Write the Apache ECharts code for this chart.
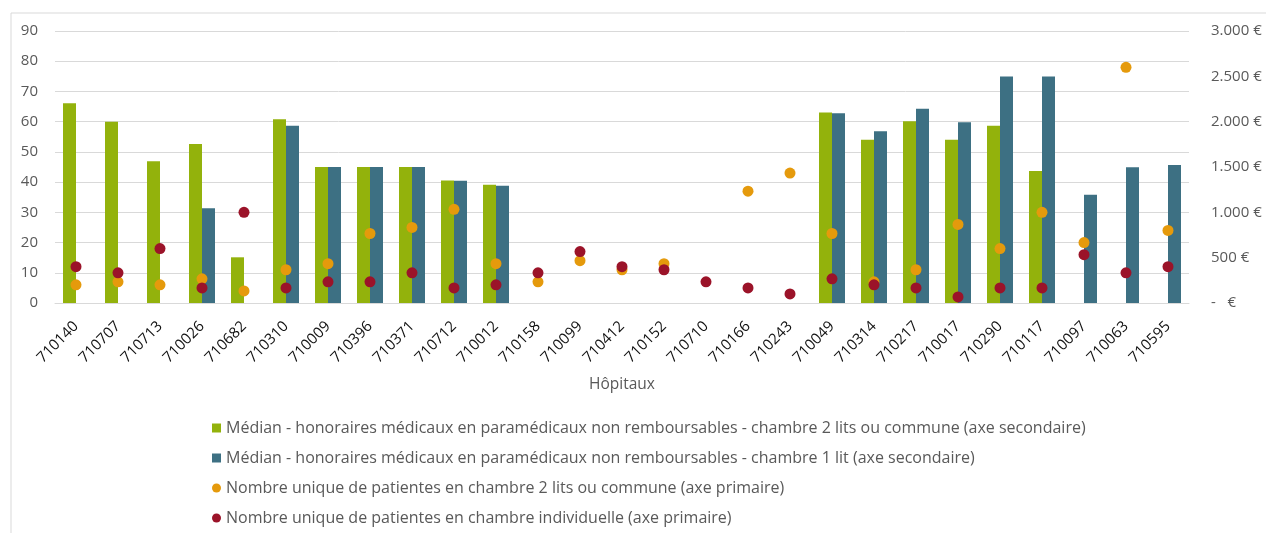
<!DOCTYPE html>
<html>
<head>
<meta charset="utf-8">
<script src="https://cdn.jsdelivr.net/npm/echarts@6/dist/echarts.min.js"></script>
<style>
  html, body { margin: 0; padding: 0; background: #fff; }
  #chart { width: 1266px; height: 533px; }
</style>
</head>
<body>
<div id="chart"></div>
<script>
// hôpitaux
const hopitaux = ['710140', '710707', '710713', '710026', '710682', '710310', '710009', '710396', '710371',
  '710712', '710012', '710158', '710099', '710412', '710152', '710710', '710166', '710243',
  '710049', '710314', '710217', '710017', '710290', '710117', '710097', '710063', '710595']

// médian honoraires (€) - axe secondaire
const median2Lits = [2203, 2000, 1563, 1753, 504, 2027, 1500, 1500, 1500, 1350, 1305, null, null, null, null, null, null, null,
  2100, 1801, 2004, 1801, 1956, 1456, null, null, null]
const median1Lit = [null, null, null, 1044, null, 1956, 1500, 1500, 1500, 1348, 1294, null, null, null, null, null, null, null,
  2093, 1893, 2143, 1993, 2497, 2497, 1194, 1497, 1522]

// nombre de patientes - axe primaire
const patientes2Lits = [6, 7, 6, 8, 4, 11, 13, 23, 25, 31, 13, 7, 14, 11, 13, null, 37, 43,
  23, 7, 11, 26, 18, 30, 20, 78, 24]
const patientesIndiv = [12, 10, 18, 5, 30, 5, 7, 7, 10, 5, 6, 10, 17, 12, 11, 7, 5, 3,
  8, 6, 5, 2, 5, 5, 16, 10, 12]

const noms = [
  'Médian - honoraires médicaux en paramédicaux non remboursables - chambre 2 lits ou commune (axe secondaire)',
  'Médian - honoraires médicaux en paramédicaux non remboursables - chambre 1 lit (axe secondaire)',
  'Nombre unique de patientes en chambre 2 lits ou commune (axe primaire)',
  'Nombre unique de patientes en chambre individuelle (axe primaire)'
]

const font = 'Open Sans'
const grey = '#595959'

function euro(v) {
  if (v === 0) return '-   €'
  return String(v).replace(/\B(?=(\d{3})+(?!\d))/g, '.') + ' €'
}

const chart = echarts.init(document.getElementById('chart'))
chart.setOption({
  animation: false,
  textStyle: { fontFamily: font },
  graphic: [{
    type: 'rect',
    shape: { x: 11, y: 13, width: 1300, height: 600 },
    style: { fill: 'none', stroke: '#d9d9d9', lineWidth: 1 },
    silent: true
  }],
  grid: { left: 55, right: 77, top: 31, bottom: 230 },
  legend: {
    orient: 'vertical',
    left: 212,
    top: 420,
    padding: 0,
    itemWidth: 9,
    itemHeight: 9,
    itemGap: 14,
    textStyle: { color: grey, fontSize: 16, lineHeight: 16, fontFamily: font },
    data: [
      { name: noms[0], icon: 'rect' },
      { name: noms[1], icon: 'rect' },
      { name: noms[2], icon: 'circle' },
      { name: noms[3], icon: 'circle' }
    ]
  },
  xAxis: {
    type: 'category',
    data: hopitaux,
    name: 'Hôpitaux',
    nameLocation: 'middle',
    nameGap: 74,
    nameTextStyle: { color: grey, fontSize: 15.5 },
    axisLine: { lineStyle: { color: '#d9d9d9' } },
    axisTick: { show: false },
    axisLabel: { rotate: 45, color: '#111', fontSize: 15, margin: 21, interval: 0 }
  },
  yAxis: [
    {
      type: 'value',
      min: 0,
      max: 90,
      interval: 10,
      axisLine: { show: false },
      axisTick: { show: false },
      axisLabel: { color: grey, fontSize: 15, margin: 17 },
      splitLine: { lineStyle: { color: '#d9d9d9', width: 1 } }
    },
    {
      type: 'value',
      min: 0,
      max: 3000,
      interval: 500,
      position: 'right',
      axisLine: { show: false },
      axisTick: { show: false },
      splitLine: { show: false },
      axisLabel: { color: grey, fontSize: 15, margin: 22, formatter: euro }
    }
  ],
  series: [
    {
      name: noms[0],
      type: 'bar',
      yAxisIndex: 1,
      data: median2Lits,
      barWidth: 13,
      barGap: '0%',
      itemStyle: { color: '#93b20c' }
    },
    {
      name: noms[1],
      type: 'bar',
      yAxisIndex: 1,
      data: median1Lit,
      barWidth: 13,
      barGap: '0%',
      itemStyle: { color: '#3d7083' }
    },
    {
      name: noms[2],
      type: 'scatter',
      yAxisIndex: 0,
      data: patientes2Lits,
      symbolSize: 11,
      itemStyle: { color: '#e59a0c', opacity: 1 }
    },
    {
      name: noms[3],
      type: 'scatter',
      yAxisIndex: 0,
      data: patientesIndiv,
      symbolSize: 11,
      itemStyle: { color: '#9b1329', opacity: 1 }
    }
  ]
})
</script>
</body>
</html>
